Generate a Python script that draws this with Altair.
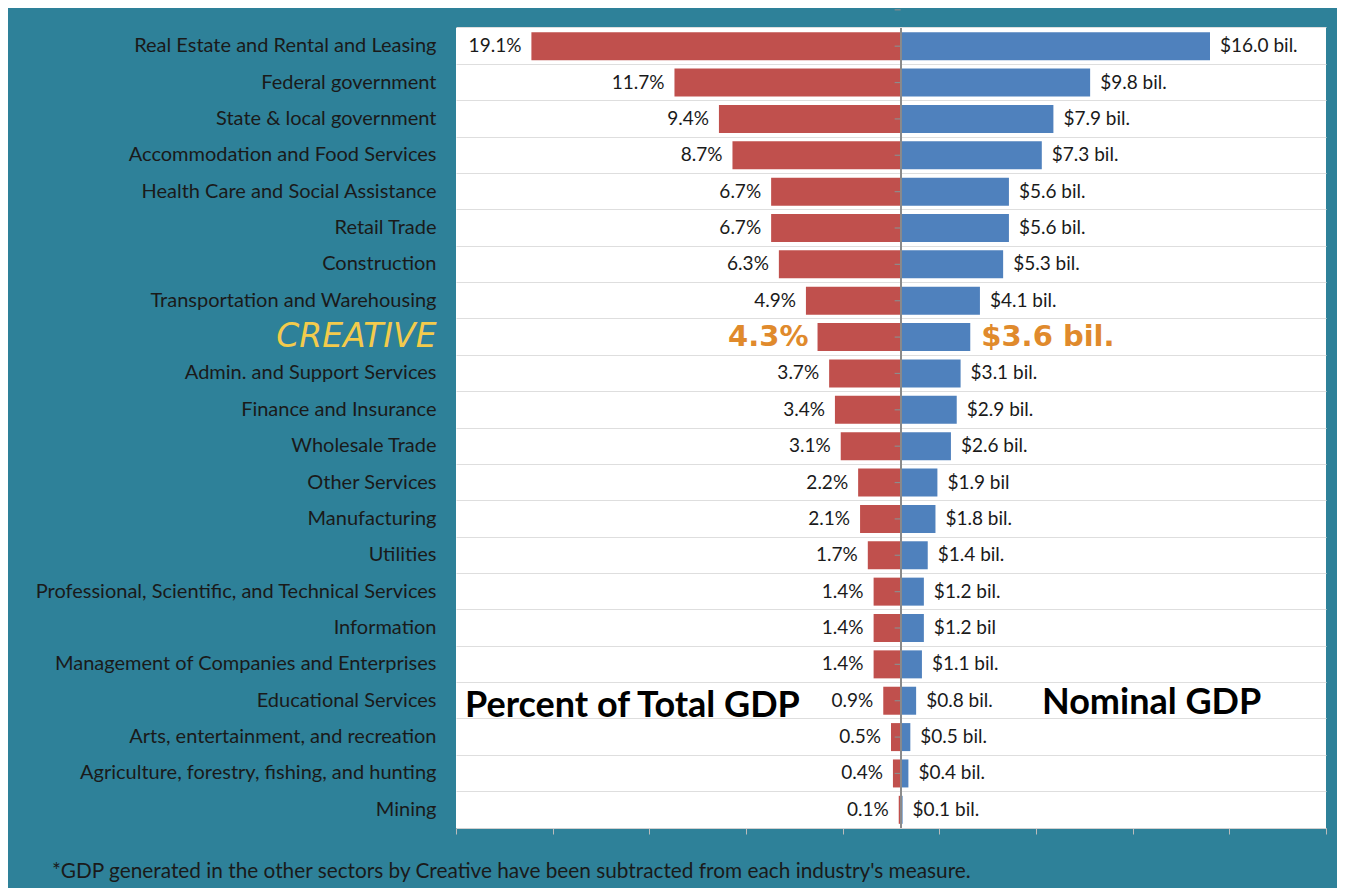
import altair as alt
import pandas as pd

industries = [
    "Real Estate and Rental and Leasing",
    "Federal government",
    "State & local government",
    "Accommodation and Food Services",
    "Health Care and Social Assistance",
    "Retail Trade",
    "Construction",
    "Transportation and Warehousing",
    "CREATIVE",
    "Admin. and Support  Services",
    "Finance and Insurance",
    "Wholesale Trade",
    "Other Services ",
    "Manufacturing",
    "Utilities",
    "Professional, Scientific, and Technical Services",
    "Information",
    "Management of Companies and Enterprises",
    "Educational Services",
    "Arts, entertainment, and recreation",
    "Agriculture, forestry, fishing, and hunting",
    "Mining",
]
pct = [19.1, 11.7, 9.4, 8.7, 6.7, 6.7, 6.3, 4.9, 4.3, 3.7, 3.4, 3.1, 2.2, 2.1,
       1.7, 1.4, 1.4, 1.4, 0.9, 0.5, 0.4, 0.1]
bil = [16.0, 9.8, 7.9, 7.3, 5.6, 5.6, 5.3, 4.1, 3.6, 3.1, 2.9, 2.6, 1.9, 1.8,
       1.4, 1.2, 1.2, 1.1, 0.8, 0.5, 0.4, 0.1]
pct_labels = ["19.1%", "11.7%", "9.4%", "8.7%", "6.7%", "6.7%", "6.3%", "4.9%",
              "4.3%", "3.7%", "3.4%", "3.1%", "2.2%", "2.1%", "1.7%", "1.4%",
              "1.4%", "1.4%", "0.9%", "0.5%", "0.4%", "0.1%"]
bil_labels = ["$16.0 bil.", "$9.8 bil.", "$7.9 bil.", "$7.3 bil.", "$5.6 bil.",
              "$5.6 bil.", "$5.3 bil.", "$4.1 bil.", "$3.6 bil.", "$3.1 bil.",
              "$2.9 bil.", "$2.6 bil.", "$1.9 bil", "$1.8 bil.", "$1.4 bil.",
              "$1.2 bil.", "$1.2 bil", "$1.1 bil.", "$0.8 bil.", "$0.5 bil.",
              "$0.4 bil.", "$0.1 bil."]
x_domain = [-23, 22]
x_ticks = [-23, -18, -13, -8, -3, 2, 7, 12, 17, 22]
highlight = "CREATIVE"
left_title = ["Percent of Total GDP"]
right_title = ["Nominal GDP"]
footnote = ["*GDP generated in the other sectors by Creative have been subtracted from each industry's measure."]

TEAL = "#2E8199"
RED = "#C0504D"
BLUE = "#4F81BD"
ORANGE = "#E08A2C"
YELLOW = "#F3CB4C"
INK = "#1A1A1A"
FONT = "Lato"
HI_FONT = "DejaVu Sans"

W, H = 870, 800
ROW = H / len(industries)

df = pd.DataFrame({
    "industry": industries,
    "neg": [-v for v in pct],
    "bil": bil,
    "pct_label": pct_labels,
    "bil_label": bil_labels,
})
df["hi"] = df["industry"] == highlight

y_enc = alt.Y(
    "industry:N",
    sort=industries,
    scale=alt.Scale(paddingInner=0, paddingOuter=0),
    axis=alt.Axis(
        title=None,
        orient="left",
        ticks=False,
        domain=False,
        grid=True,
        gridColor="#DEDEDE",
        bandPosition=0,
        labelPadding=20,
        labelFont=alt.expr(f"datum.value == '{highlight}' ? '{HI_FONT}' : '{FONT}'"),
        labelFontSize=alt.expr(f"datum.value == '{highlight}' ? 33 : 20"),
        labelFontStyle=alt.expr(f"datum.value == '{highlight}' ? 'italic' : 'normal'"),
        labelColor=alt.expr(f"datum.value == '{highlight}' ? '{YELLOW}' : '{INK}'"),
        labelLimit=600,
    ),
)

x_scale = alt.Scale(domain=x_domain, nice=False, zero=False)
x_axis = alt.Axis(
    title=None, labels=False, values=x_ticks, ticks=True, tickSize=6,
    tickColor="#BBBBBB", domain=True, domainColor="#D0D0D0", grid=False,
    orient="bottom",
)

base = alt.Chart(df)

red_bars = base.mark_bar(color=RED, size=28).encode(
    y=y_enc,
    x=alt.X("neg:Q", scale=x_scale, axis=x_axis),
    x2=alt.datum(0),
)
blue_bars = base.mark_bar(color=BLUE, size=28).encode(
    y=y_enc,
    x=alt.X("bil:Q", scale=x_scale, axis=x_axis),
    x2=alt.datum(0),
)

center_line = base.mark_rule(color="#8C8C8C", strokeWidth=1.2).encode(
    x=alt.datum(0),
)
small_ticks = base.mark_rule(color="#8C8C8C", strokeWidth=1.2).encode(
    y=y_enc,
    x=alt.datum(0),
    x2=alt.datum(-0.31),
    yOffset=alt.value(-ROW / 2),
)

pct_text = base.transform_filter("!datum.hi").mark_text(
    align="right", baseline="middle", dx=-10, fontSize=19, font=FONT, color=INK
).encode(y=y_enc, x=alt.X("neg:Q", scale=x_scale, axis=x_axis), text="pct_label:N")
bil_text = base.transform_filter("!datum.hi").mark_text(
    align="left", baseline="middle", dx=10, fontSize=19, font=FONT, color=INK
).encode(y=y_enc, x=alt.X("bil:Q", scale=x_scale, axis=x_axis), text="bil_label:N")

pct_hi = base.transform_filter("datum.hi").mark_text(
    align="right", baseline="middle", dx=-9, fontSize=29, font=HI_FONT,
    fontWeight="bold", color=ORANGE
).encode(y=y_enc, x=alt.X("neg:Q", scale=x_scale, axis=x_axis), text="pct_label:N")
bil_hi = base.transform_filter("datum.hi").mark_text(
    align="left", baseline="middle", dx=11, fontSize=29, font=HI_FONT,
    fontWeight="bold", color=ORANGE
).encode(y=y_enc, x=alt.X("bil:Q", scale=x_scale, axis=x_axis), text="bil_label:N")

left_t = alt.Chart(pd.DataFrame({"t": left_title})).mark_text(
    align="left", baseline="middle", fontSize=36, fontWeight="bold", font=FONT, color="#000000"
).encode(text="t:N", x=alt.value(9), y=alt.value(678))
right_t = alt.Chart(pd.DataFrame({"t": right_title})).mark_text(
    align="left", baseline="middle", fontSize=36, fontWeight="bold", font=FONT, color="#000000"
).encode(text="t:N", x=alt.value(586), y=alt.value(675))
foot = alt.Chart(pd.DataFrame({"t": footnote})).mark_text(
    align="left", baseline="middle", fontSize=20.8, font=FONT, color=INK
).encode(text="t:N", x=alt.value(-404), y=alt.value(844))

chart = alt.layer(
    red_bars, blue_bars, center_line, small_ticks,
    pct_text, bil_text, pct_hi, bil_hi, left_t, right_t, foot,
).properties(
    width=W, height=H,
    autosize=alt.AutoSizeParams(type="none"),
    padding={"left": 448, "top": 20, "right": 11, "bottom": 60},
    background=TEAL,
).configure_view(fill="white", strokeWidth=0)

chart.save("out.html", embed_options={"renderer": "svg", "actions": False})
